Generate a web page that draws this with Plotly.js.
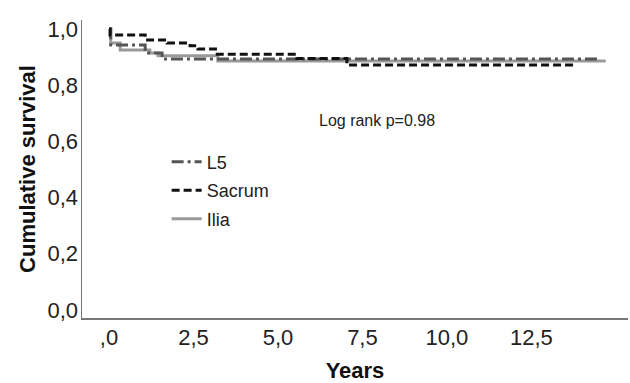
<!DOCTYPE html>
<html>
<head>
<meta charset="utf-8">
<script src="https://cdn.plot.ly/plotly-3.0.1.min.js"></script>
<style>html,body{margin:0;padding:0;background:#fff;}#chart{width:630px;height:383px;}</style>
</head>
<body>
<div id="chart"></div>
<script>
// Kaplan-Meier step data (years, cumulative survival)
var l5Years     = [0, 0.05, 1.07, 1.57, 14.5];
var l5Surv      = [1.0, 0.943, 0.915, 0.893, 0.893];
var sacrumYears = [0, 0.03, 1.07, 1.72, 2.4, 2.63, 3.15, 5.56, 7.04, 13.85];
var sacrumSurv  = [1.0, 0.979, 0.961, 0.950, 0.940, 0.929, 0.910, 0.895, 0.872, 0.872];
var iliaYears   = [0, 0.05, 0.33, 1.21, 1.45, 3.22, 14.7];
var iliaSurv    = [1.0, 0.950, 0.925, 0.915, 0.905, 0.886, 0.886];

var xTickVals   = [0, 2.5, 5, 7.5, 10, 12.5];
var xTickText   = [",0", "2,5", "5,0", "7,5", "10,0", "12,5"];
var yTickVals   = [0, 0.2, 0.4, 0.6, 0.8, 1.0];
var yTickText   = ["0,0", "0,2", "0,4", "0,6", "0,8", "1,0"];

var FONT = "Liberation Sans, Arial, sans-serif";

var traces = [
  {x: iliaYears, y: iliaSurv, name: "Ilia", legendgroup: "c", legendrank: 3, mode: "lines",
   line: {shape: "hv", color: "#9a9a9a", width: 3}},
  {x: l5Years, y: l5Surv, name: "L5", legendgroup: "a", legendrank: 1, mode: "lines",
   line: {shape: "hv", color: "#555555", width: 3, dash: "12px,4px,3px,4px"}},
  {x: sacrumYears, y: sacrumSurv, name: "Sacrum", legendgroup: "b", legendrank: 2, mode: "lines",
   line: {shape: "hv", color: "#111111", width: 3, dash: "8px,4px"}}
];

var layout = {
  width: 630, height: 383,
  margin: {l: 82, r: 2, t: 20, b: 65, pad: 0},
  paper_bgcolor: "#fff", plot_bgcolor: "#fff",
  font: {family: FONT, color: "#222"},
  showlegend: true,
  legend: {x: 0.155, y: 0.585, xanchor: "left", yanchor: "top",
           traceorder: "grouped", tracegroupgap: 2,
           font: {size: 18, family: FONT, color: "#222"},
           bgcolor: "rgba(0,0,0,0)", borderwidth: 0},
  xaxis: {range: [-0.8, 15.36], showgrid: false, zeroline: false,
          showline: true, linecolor: "#777", linewidth: 1.5, mirror: false,
          ticks: "", tickvals: xTickVals, ticktext: xTickText,
          tickfont: {size: 22, family: FONT, color: "#222"}, ticklabelstandoff: -1,
          title: {text: "<b>Years</b>", font: {size: 22, family: FONT, color: "#111"}, standoff: 14}},
  yaxis: {range: [-0.0285, 1.032], showgrid: false, zeroline: false,
          showline: true, linecolor: "#777", linewidth: 1.5,
          ticks: "", tickvals: yTickVals, ticktext: yTickText,
          tickfont: {size: 22, family: FONT, color: "#222"}, ticklabelstandoff: -2,
          title: {text: "<b>Cumulative survival</b>", font: {size: 22, family: FONT, color: "#111"}, standoff: 6}},
  annotations: [
    {x: 7.93, y: 0.676, xref: "x", yref: "y", text: "Log rank p=0.98", showarrow: false,
     font: {size: 16, family: FONT, color: "#222"}}
  ]
};
Plotly.newPlot("chart", traces, layout, {displayModeBar: false, staticPlot: true});
</script>
</body>
</html>
